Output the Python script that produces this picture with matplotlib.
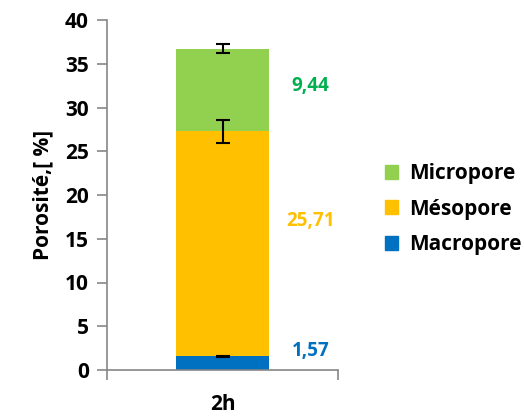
import numpy as np
import matplotlib.pyplot as plt
from matplotlib.patches import Patch

plt.rcParams['font.family'] = ['Open Sans', 'DejaVu Sans']
plt.rcParams['font.weight'] = 'bold'

category = ['2h']
series = ['Macropore', 'Mésopore', 'Micropore']
values = [1.57, 25.71, 9.44]
errors = [0.05, 1.3, 0.5]
labels = ['1,57', '25,71', '9,44']
colors = ['#0070C0', '#FFC000', '#92D050']
label_colors = ['#0070C0', '#FFC000', '#00B050']

fig = plt.figure(figsize=(5.24, 4.17), dpi=100)
ax = fig.add_axes([107 / 524, 47 / 417, 231 / 524, 350 / 417])

x = np.arange(len(category))
bottom = 0.0
# where each value label sits inside its segment (fraction of segment height)
label_frac = [0.45, 0.6, 0.55]
for v, e, c, lab, lc, f in zip(values, errors, colors, labels, label_colors, label_frac):
    ax.bar(x, v, width=0.40, bottom=bottom, color=c, zorder=2)
    ax.errorbar(x, bottom + v, yerr=e, fmt='none', ecolor='black',
                elinewidth=1.5, capsize=5, capthick=1.5, zorder=3)
    ax.text(x[0] + 0.38, bottom + v * f + (1.5 if v < 3 else 0), lab, color=lc,
            fontsize=13.5, fontweight='bold', ha='center', va='center')
    bottom += v

ax.set_xlim(-0.5, 0.5)
ax.set_ylim(0, 40)
ax.set_yticks(np.arange(0, 41, 5))
ax.set_xticks(x)
ax.set_xticklabels(category, fontsize=15, fontweight='bold')
ax.set_xticks([-0.5, 0.5], minor=True)
ax.tick_params(axis='x', which='major', length=0, pad=17)
ax.tick_params(axis='x', which='minor', length=7, color='#868686', width=1.2)
ax.tick_params(axis='y', length=7, color='#868686', width=1.2, labelsize=15, pad=6)
for lbl in ax.get_yticklabels():
    lbl.set_fontweight('bold')

for s in ['top', 'right']:
    ax.spines[s].set_visible(False)
for s in ['left', 'bottom']:
    ax.spines[s].set_color('#868686')
    ax.spines[s].set_linewidth(1.2)

ax.set_ylabel('Porosité,[ %]', fontsize=15, fontweight='bold', labelpad=8)

handles = [Patch(color=c) for c in colors[::-1]]
fig.legend(handles, series[::-1], loc='center left',
           bbox_to_anchor=(366 / 524, 1 - 209 / 417), frameon=False,
           prop={'size': 15, 'weight': 'bold'}, handlelength=0.65,
           handleheight=0.65, handletextpad=0.5, labelspacing=0.7)

fig.savefig('out.png', dpi=100)
